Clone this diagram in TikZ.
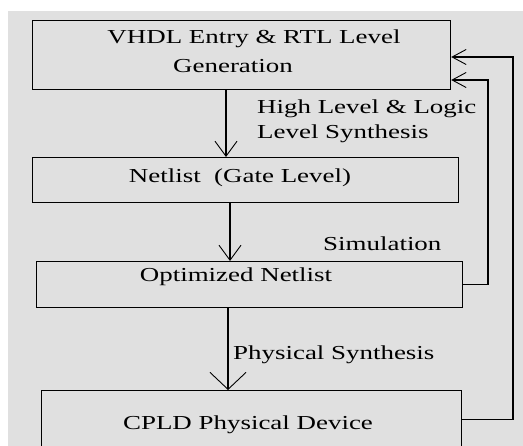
\documentclass[tikz,border=0pt]{standalone}
\usepackage{fontspec}
\setmainfont{Liberation Serif}[FakeStretch=1.36]
\usetikzlibrary{arrows.meta}
\definecolor{bgc}{RGB}{224,224,224}
\begin{document}
\begin{tikzpicture}[x=1pt,y=-1pt,
  stagebox/.style={draw=black,line width=1.2pt,fill=bgc,inner sep=0pt,anchor=north west},
  txt/.style={font=\fontsize{19.8}{22}\selectfont,inner sep=0pt,anchor=base},
  lbl/.style={font=\fontsize{19.8}{22}\selectfont,inner sep=0pt,anchor=base west},
  conn/.style={line width=1.1pt},
  bigarr/.style={conn,-{Straight Barb[length=17pt,width=36pt,line width=0.9pt]}},
  midarr/.style={conn,-{Straight Barb[length=15pt,width=22pt,line width=0.9pt]}},
  fbarr/.style={conn,-{Straight Barb[length=14pt,width=15pt,line width=0.9pt]}}]
\clip (0,0) rectangle (523,446);
\fill[white] (0,0) rectangle (523,446);
\fill[bgc] (8,11) rectangle (523,446);
% boxes
\node[stagebox,minimum width=418pt,minimum height=69pt] (b1) at (32,20) {};
\node[stagebox,minimum width=426pt,minimum height=45pt] (b2) at (32,157) {};
\node[stagebox,minimum width=426pt,minimum height=46pt] (b3) at (36,261) {};
\node[stagebox,minimum width=420pt,minimum height=58pt] (b4) at (41,390) {};
% texts
\node[txt] (t1a) at (254,44) {VHDL Entry \& RTL Level};
\node[txt] (t1b) at (233,73) {Generation};
\node[txt] (t2) at (240,183) {Netlist\ \ (Gate Level)};
\node[txt] (t3) at (236,282) {Optimized Netlist};
\node[txt] (t4) at (248,430) {CPLD Physical Device};
% labels
\node[lbl] (l1a) at (257,114) {High Level \& Logic};
\node[lbl] (l1b) at (257,139) {Level Synthesis};
\node[lbl] (l2) at (323,251) {Simulation};
\node[lbl] (l3) at (233,360) {Physical Synthesis};
% forward arrows
\draw[midarr] (b1.south -| 226,0) -- (b2.north -| 226,0);
\draw[midarr] (b2.south -| 230,0) -- (b3.north -| 230,0);
\draw[bigarr] (b3.south -| 228,0) -- (b4.north -| 228,0);
% feedback
\coordinate (f1) at (488,284);
\coordinate (f2) at (513,418);
\draw[fbarr] (b3.east) -- (b3.east -| f1) -- (f1 |- 0,80) -- (b1.east |- 0,80);
\draw[fbarr] (b4.east) -- (b4.east -| f2) -- (f2 |- 0,57) -- (b1.east |- 0,57);
\end{tikzpicture}
\end{document}
